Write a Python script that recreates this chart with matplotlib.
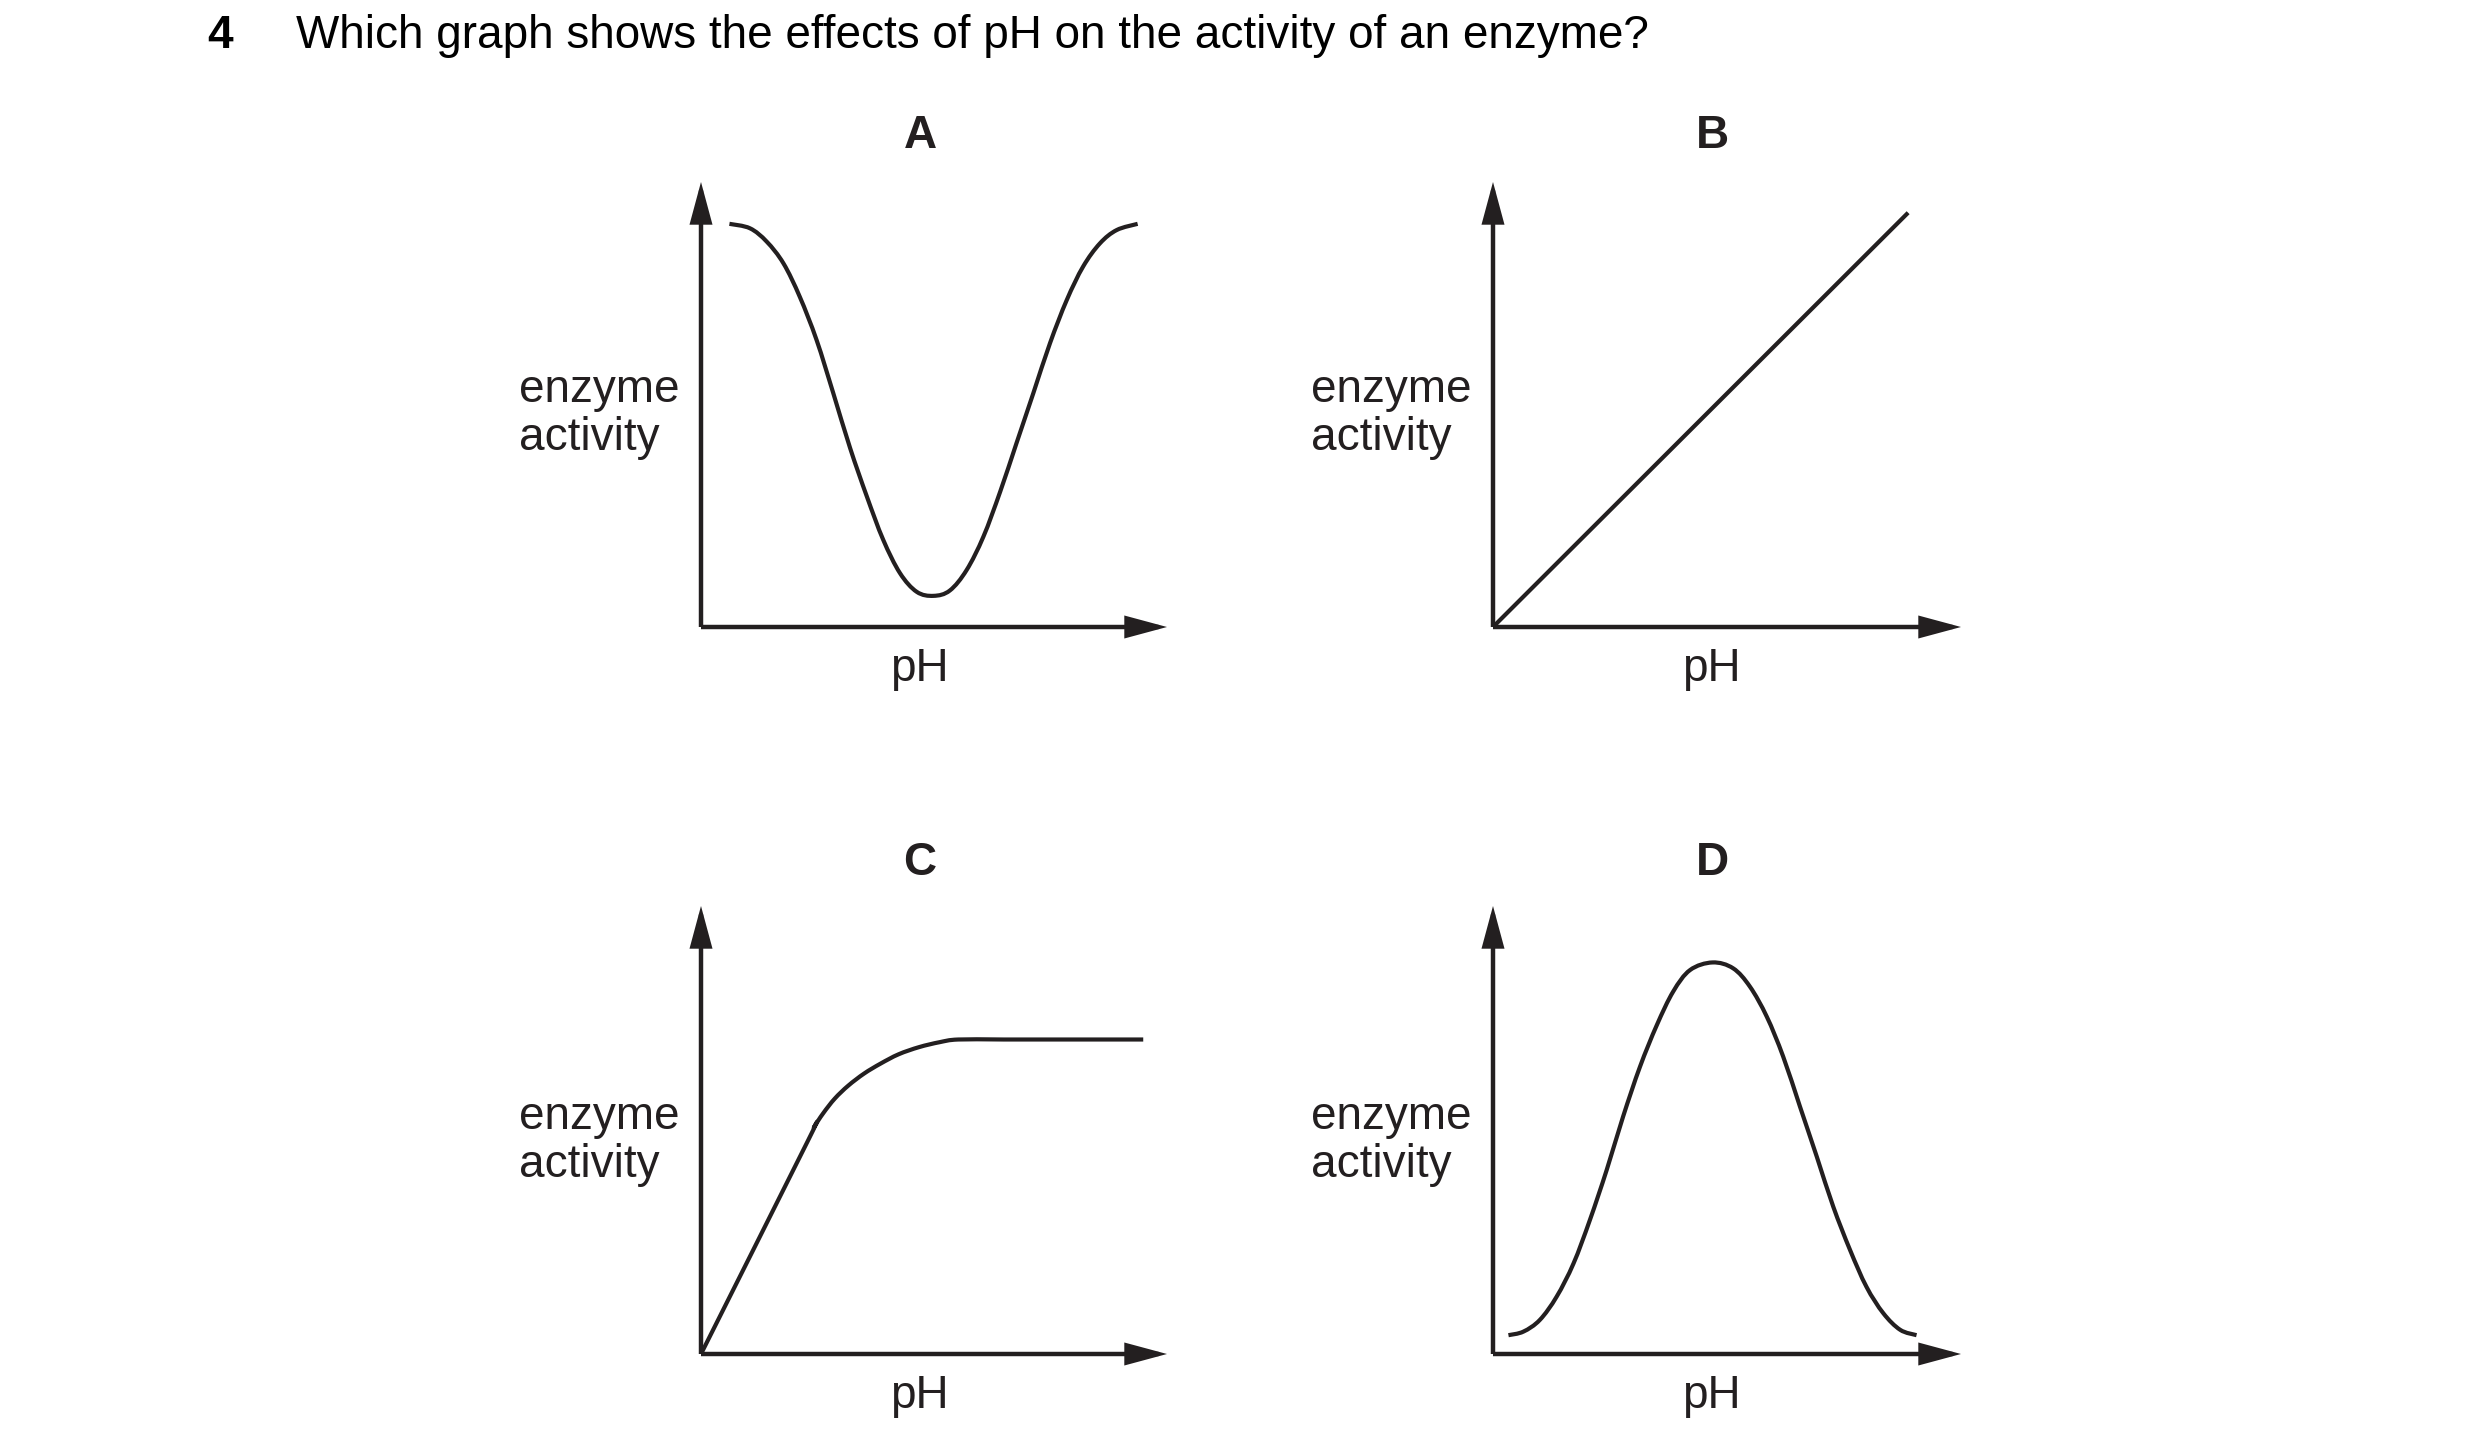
import matplotlib
matplotlib.use("Agg")
import matplotlib.pyplot as plt
from matplotlib.patches import FancyArrowPatch, ArrowStyle, PathPatch
from matplotlib.path import Path

# ---------------- data (arbitrary units 0-100) ----------------
question_number = "4"
question_text = "Which graph shows the effects of pH on the activity of an enzyme?"
panel_labels = ["A", "B", "C", "D"]
x_label = "pH"
y_label_lines = ["enzyme", "activity"]

# Graph A: U-shaped curve
ph_A = [6.1, 10.5, 14.1, 17.7, 21.2, 24.8, 28.4, 32.0, 35.6, 39.1, 42.7, 46.3, 49.9,
        53.4, 57.0, 60.6, 64.2, 67.7, 71.3, 74.9, 78.5, 82.0, 85.6, 89.2, 93.7]
act_A = [90.6, 89.6, 86.6, 81.7, 74.2, 64.5, 52.5, 40.2, 29.3, 19.6, 12.1, 7.9, 7.0,
         8.2, 12.8, 20.3, 30.4, 41.3, 52.5, 63.8, 73.5, 81.0, 86.2, 89.2, 90.6]

# Graph B: straight line through the origin
ph_B = [0.0, 88.7]
act_B = [0.0, 93.1]

# Graph C: rise then plateau
ph_C = [0.0, 22.8, 24.2, 26.2, 28.7, 31.6, 35.0, 38.5, 42.4, 46.8, 51.2, 55.2,
        65.0, 80.0, 94.9]
act_C = [0.0, 47.3, 50.5, 53.7, 57.0, 59.9, 62.6, 64.8, 66.9, 68.5, 69.6, 70.2,
         70.2, 70.2, 70.2]

# Graph D: bell-shaped curve
ph_D = [3.3, 6.5, 10.0, 13.6, 17.2, 20.7, 24.3, 27.8, 31.4, 35.0, 38.5, 42.1, 46.9,
        51.3, 54.9, 58.5, 62.0, 65.6, 69.2, 72.7, 76.3, 79.8, 83.4, 87.0, 90.5]
act_D = [4.2, 5.0, 7.6, 12.8, 20.2, 29.9, 41.1, 53.0, 64.1, 73.4, 80.9, 85.7, 87.4,
         86.1, 82.0, 75.3, 66.4, 55.2, 44.0, 32.9, 23.2, 15.0, 9.1, 5.4, 4.2]

series = [(ph_A, act_A), (ph_B, act_B), (ph_C, act_C), (ph_D, act_D)]

# ---------------- style / layout ----------------
W, H = 2480, 1455
INK = "#231f20"
AXIS_LW = 3.2
CURVE_LW = 3.0
FONT = ["Liberation Sans", "DejaVu Sans"]
FS = 33

plt.rcParams["font.family"] = FONT

fig = plt.figure(figsize=(W / 100, H / 100), dpi=100)
fig.patch.set_facecolor("white")

# pixel boxes: (origin_x, origin_y, x_tip, y_tip)
boxes = [(701, 627, 1167, 182), (1493, 627, 1961, 182),
         (701, 1354, 1167, 906), (1493, 1354, 1961, 906)]


def fx(px):
    return px / W


def fy(py):
    return 1 - py / H


def smooth_path(xs, ys):
    """Smooth path through the read points (Catmull-Rom as cubic Bezier segments)."""
    pts = list(zip(xs, ys))
    if len(pts) == 2:
        return Path(pts, [Path.MOVETO, Path.LINETO])
    verts = [pts[0]]
    codes = [Path.MOVETO]
    n = len(pts)
    for i in range(n - 1):
        p0 = pts[i - 1] if i > 0 else pts[i]
        p1 = pts[i]
        p2 = pts[i + 1]
        p3 = pts[i + 2] if i + 2 < n else pts[i + 1]
        c1 = (p1[0] + (p2[0] - p0[0]) / 6, p1[1] + (p2[1] - p0[1]) / 6)
        c2 = (p2[0] - (p3[0] - p1[0]) / 6, p2[1] - (p3[1] - p1[1]) / 6)
        verts += [c1, c2, p2]
        codes += [Path.CURVE4] * 3
    return Path(verts, codes)


arrow_style = ArrowStyle("-|>", head_length=23, head_width=6.2)

for (ox, oy, xt, yt), lab, (xs, ys) in zip(boxes, panel_labels, series):
    ax = fig.add_axes([fx(ox), fy(oy), (xt - ox) / W, (oy - yt) / H])
    ax.set_xlim(0, 100)
    ax.set_ylim(0, 100)
    ax.axis("off")
    for end in [(100, 0), (0, 100)]:
        arr = FancyArrowPatch((0, 0), end, arrowstyle=arrow_style, mutation_scale=1,
                              lw=AXIS_LW, color=INK, shrinkA=0, shrinkB=0, clip_on=False,
                              joinstyle="miter", capstyle="butt")
        ax.add_patch(arr)
    patch = PathPatch(smooth_path(xs, ys), facecolor="none", edgecolor=INK, lw=CURVE_LW,
                      capstyle="butt", joinstyle="round", clip_on=False)
    ax.add_patch(patch)

    dx = ox - 701
    dy = oy - 627
    fig.text(fx(920 + dx), fy(148 + dy), lab, ha="center", va="baseline",
             fontsize=FS, fontweight="bold", color=INK)
    fig.text(fx(519 + dx), fy(402 + dy), y_label_lines[0], ha="left", va="baseline",
             fontsize=FS, color=INK)
    fig.text(fx(519 + dx), fy(450 + dy), y_label_lines[1], ha="left", va="baseline",
             fontsize=FS, color=INK)
    fig.text(fx(919 + dx), fy(681 + dy), x_label, ha="center", va="baseline",
             fontsize=FS, color=INK)

fig.text(fx(207), fy(48), question_number, ha="left", va="baseline",
         fontsize=FS, fontweight="bold", color="black")
fig.text(fx(296), fy(48), question_text, ha="left", va="baseline",
         fontsize=FS, color="black")

fig.savefig("out.png", dpi=100, facecolor="white")
